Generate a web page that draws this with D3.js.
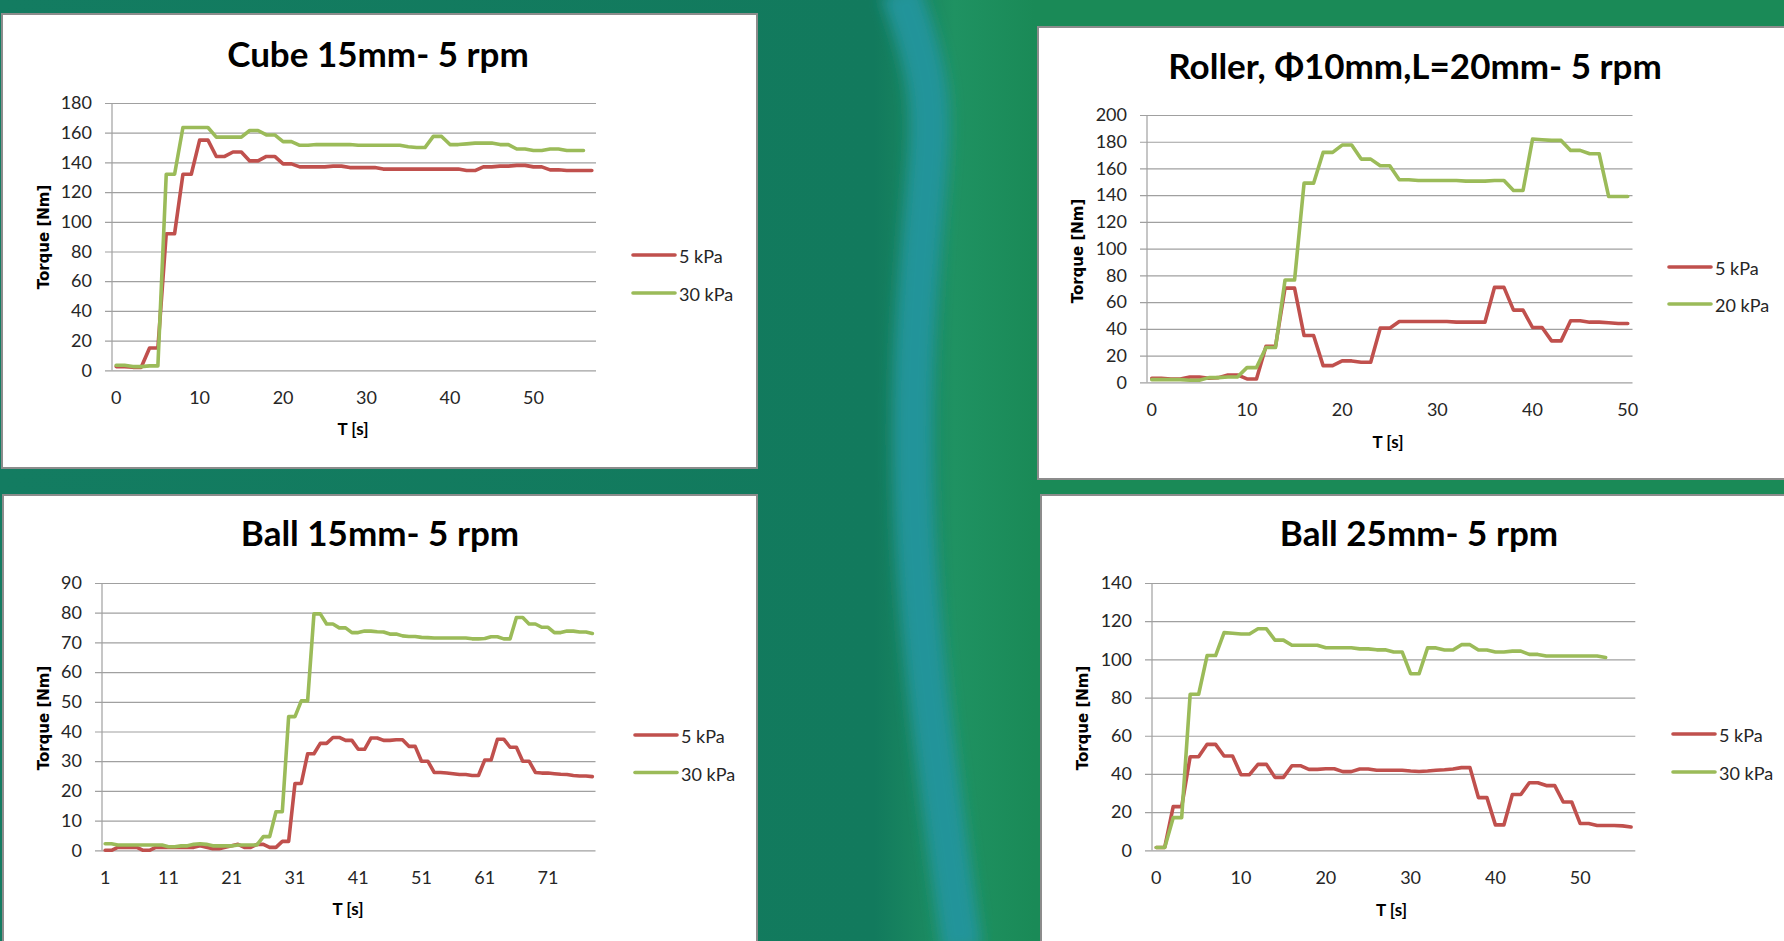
<!DOCTYPE html>
<html>
<head>
<meta charset="utf-8">
<script src="https://cdnjs.cloudflare.com/ajax/libs/d3/7.8.5/d3.min.js"></script>
<style>
    body { margin: 0; background: #127b5e; overflow: hidden; }
    svg { display: block; }
    .tick text { font-family: Lato, "Open Sans", sans-serif; font-size: 18px; fill: #262626; }
    .title { font-family: Lato, "Open Sans", sans-serif; font-weight: bold; font-size: 35px; fill: #000; }
    .ylabel { font-family: "DejaVu Sans", sans-serif; font-weight: bold; font-size: 15px; fill: #000; }
    .xlabel { font-family: Lato, "Open Sans", sans-serif; font-weight: bold; font-size: 17px; fill: #000; }
    .legend text { font-family: Lato, "Open Sans", sans-serif; font-size: 18px; fill: #262626; }
</style>
</head>
<body>
<div id="slide"></div>
<script>
//VARIABLES
let colors = ['#c0504d', '#9bbb59'];
let gridColor = '#a0a0a0';

//DATA - Cube 15mm (T = 0..57 s)
let cubeTime = d3.range(0, 58);
let cubeTicks = [0, 10, 20, 30, 40, 50];
let cubeNames = ['5 kPa', '30 kPa'];
let cube5 = [2.5, 2.5, 2, 2, 15, 15, 92, 92, 132, 132, 155, 155, 144, 144, 147, 147, 141, 141, 144, 144,
    139, 139, 137, 137, 137, 137, 137.5, 137.5, 136.5, 136.5, 136.5, 136.5, 135.5, 135.5, 135.5, 135.5, 135.5, 135.5, 135.5, 135.5,
    135.5, 135.5, 134.5, 134.5, 137, 137, 137.5, 137.5, 138, 138, 137, 137, 135, 135, 134.5, 134.5, 134.5, 134.5];
let cube30 = [3.4, 3.4, 2.5, 2.5, 3, 3, 132, 132, 163.5, 163.5, 163.5, 163.5, 157, 157, 157, 157, 161.5, 161.5, 158.5, 158.5,
    154, 154, 151.5, 151.5, 152, 152, 152, 152, 152, 151.5, 151.5, 151.5, 151.5, 151.5, 151.5, 150.5, 150, 150, 157.5, 157.5,
    152, 152, 152.5, 153, 153, 153, 152, 152, 149, 149, 148, 148, 149, 149, 148, 148, 148];

//DATA - Roller 10mm (T = 0..50 s)
let rollerTime = d3.range(0, 51);
let rollerTicks = [0, 10, 20, 30, 40, 50];
let rollerNames = ['5 kPa', '20 kPa'];
let roller5 = [3, 3, 2.5, 2.5, 4, 4, 3, 3.5, 5.5, 5.5, 2.5, 2.5, 27, 27, 70.5, 70.5, 35, 35, 12.5, 12.5,
    16, 16, 15, 15, 40.5, 40.5, 45.5, 45.5, 45.5, 45.5, 45.5, 45.5, 45, 45, 45, 45, 71, 71, 54, 54,
    41, 41, 31, 31, 46, 46, 45, 45, 44.5, 44, 44];
let roller20 = [2, 2, 2, 2, 1.5, 1.5, 3.5, 3.5, 4, 4, 11, 11, 26, 26, 76.5, 76.5, 149, 149, 172, 172,
    177.5, 177.5, 167, 167, 162, 162, 151.5, 151.5, 151, 151, 151, 151, 151, 150.5, 150.5, 150.5, 151, 151, 143.5, 143.5,
    182, 181.5, 181, 181, 173.5, 173.5, 171, 171, 139, 139, 139];

//DATA - Ball 15mm (T = 1..78 s)
let ball15Time = d3.range(1, 79);
let ball15Ticks = [1, 11, 21, 31, 41, 51, 61, 71];
let ball15Names = ['5 kPa', '30 kPa'];
let ball15_5 = [0, 0, 1, 1, 1, 1, 0, 0, 1, 1, 1, 1, 1, 1, 1, 1.5, 1, 0.5, 0.5, 1,
    1.5, 2, 1, 1, 2, 2, 1, 1, 3, 3, 22.5, 22.5, 32.5, 32.5, 36, 36, 38, 38, 37, 37,
    34, 34, 37.8, 37.8, 37, 37, 37.2, 37.2, 35, 35, 30, 30, 26.2, 26.2, 26, 25.8, 25.5, 25.5, 25.2, 25.2,
    30.4, 30.4, 37.4, 37.4, 34.7, 34.7, 30, 30, 26.2, 26, 26, 25.8, 25.6, 25.5, 25.2, 25, 25, 24.8];
let ball15_30 = [2.2, 2.2, 1.8, 1.8, 1.8, 1.8, 1.8, 1.8, 1.8, 1.8, 1.2, 1.2, 1.5, 1.5, 2, 2.2, 2, 1.5, 1.5, 1.5,
    1.5, 1.8, 1.8, 1.8, 1.8, 4.6, 4.6, 13, 13, 45, 45, 50.3, 50.3, 79.6, 79.6, 76.2, 76.2, 74.9, 74.9, 73.3,
    73.3, 73.8, 73.8, 73.6, 73.5, 72.8, 72.8, 72.2, 72, 72, 71.7, 71.6, 71.5, 71.5, 71.5, 71.5, 71.5, 71.5, 71.2, 71.2,
    71.3, 71.9, 71.9, 71.2, 71.2, 78.4, 78.4, 76.2, 76.2, 75.1, 75.1, 73.3, 73.3, 73.8, 73.8, 73.5, 73.5, 73];

//DATA - Ball 25mm (T = 0..56 s)
let ball25Time = d3.range(0, 57);
let ball25Ticks = [0, 10, 20, 30, 40, 50];
let ball25Names = ['5 kPa', '30 kPa'];
let ball25_5 = [1.5, 1.5, 22.9, 22.9, 49, 49, 55.5, 55.5, 49.4, 49.4, 39.6, 39.6, 45, 45, 38.2, 38.2, 44.3, 44.3, 42.4, 42.4,
    42.7, 42.7, 41.2, 41.2, 42.6, 42.6, 41.9, 41.9, 41.9, 41.9, 41.5, 41.3, 41.5, 41.9, 42.2, 42.6, 43.3, 43.3, 27.6, 27.6,
    13.3, 13.3, 29.2, 29.2, 35.4, 35.4, 33.9, 33.9, 25.3, 25.3, 14, 14, 13, 13, 13, 12.8, 12.2];
let ball25_30 = [1.5, 1.5, 17.1, 17.1, 81.7, 81.7, 102, 102, 114, 113.7, 113.3, 113.3, 116, 116, 110.1, 110.1, 107.4, 107.4, 107.4, 107.4,
    106.1, 106.1, 106.1, 106.1, 105.5, 105.5, 105, 105, 103.9, 103.9, 92.5, 92.5, 106, 106, 104.9, 104.9, 107.7, 107.7, 104.9, 104.9,
    103.9, 103.9, 104.3, 104.3, 102.6, 102.6, 101.8, 101.8, 101.8, 101.8, 101.8, 101.8, 101.8, 101];

//SVG
let svg = d3.select('#slide').append('svg')
    .attr('width', 1784)
    .attr('height', 941);

drawBackground();

drawPanel({
    box: [2, 14, 755, 454],
    plot: {left: 112, right: 596, top: 103, bottom: 370.3},
    yMax: 180, yStep: 20,
    time: cubeTime, ticks: cubeTicks,
    series: [cube5, cube30], names: cubeNames,
    title: 'Cube 15mm- 5 rpm', titleX: 378, titleY: 67,
    yLabelX: 44, yLabelY: 237,
    xLabelX: 353, xLabelY: 435,
    legendX: 633, legendY: [255, 293]
});

drawPanel({
    box: [1038, 27, 760, 452],
    plot: {left: 1147, right: 1632.5, top: 115, bottom: 382.3},
    yMax: 200, yStep: 20,
    time: rollerTime, ticks: rollerTicks,
    series: [roller5, roller20], names: rollerNames,
    title: 'Roller, Φ10mm,L=20mm- 5 rpm', titleX: 1415, titleY: 79,
    yLabelX: 1078, yLabelY: 251,
    xLabelX: 1388, xLabelY: 448,
    legendX: 1669, legendY: [267, 304]
});

drawPanel({
    box: [3, 495, 754, 460],
    plot: {left: 102, right: 595.5, top: 583, bottom: 850.3},
    yMax: 90, yStep: 10,
    time: ball15Time, ticks: ball15Ticks,
    series: [ball15_5, ball15_30], names: ball15Names,
    title: 'Ball 15mm- 5 rpm', titleX: 380, titleY: 546,
    yLabelX: 44, yLabelY: 718,
    xLabelX: 348, xLabelY: 915,
    legendX: 635, legendY: [735, 772.5]
});

drawPanel({
    box: [1041, 495, 760, 460],
    plot: {left: 1152, right: 1635.3, top: 583, bottom: 850.3},
    yMax: 140, yStep: 20,
    time: ball25Time, ticks: ball25Ticks,
    series: [ball25_5, ball25_30], names: ball25Names,
    title: 'Ball 25mm- 5 rpm', titleX: 1419, titleY: 545.7,
    yLabelX: 1083, yLabelY: 718,
    xLabelX: 1391.5, xLabelY: 916,
    legendX: 1673, legendY: [734, 772]
});

//FUNCTIONS
function drawBackground() {
    let defs = svg.append('defs');
    let grad = defs.append('linearGradient')
        .attr('id', 'bgGrad')
        .attr('x1', '0').attr('x2', '1').attr('y1', '0').attr('y2', '0');
    grad.append('stop').attr('offset', '0').attr('stop-color', '#137c61');
    grad.append('stop').attr('offset', '0.49').attr('stop-color', '#127a5d');
    grad.append('stop').attr('offset', '0.535').attr('stop-color', '#1f9262');
    grad.append('stop').attr('offset', '0.58').attr('stop-color', '#1a8a57');
    grad.append('stop').attr('offset', '1').attr('stop-color', '#1a8a57');

    defs.append('filter')
        .attr('id', 'blur')
        .attr('x', '-50%').attr('width', '200%')
        .append('feGaussianBlur')
        .attr('stdDeviation', 7);

    svg.append('rect')
        .attr('width', 1784)
        .attr('height', 941)
        .attr('fill', 'url(#bgGrad)');

    //Light streak in the middle
    let streak = d3.line().curve(d3.curveBasis);
    svg.append('path')
        .attr('d', streak([[900, -10], [935, 90], [925, 200], [912, 360], [913, 540], [930, 720], [962, 950]]))
        .attr('fill', 'none')
        .attr('stroke', '#23949a')
        .attr('stroke-width', 40)
        .attr('filter', 'url(#blur)');
}

function drawPanel(cfg) {
    let panel = svg.append('g');

    panel.append('rect')
        .attr('x', cfg.box[0])
        .attr('y', cfg.box[1])
        .attr('width', cfg.box[2])
        .attr('height', cfg.box[3])
        .attr('fill', '#ffffff')
        .attr('stroke', '#8c8c8c')
        .attr('stroke-width', 2);

    panel.append('text')
        .attr('class', 'title')
        .attr('x', cfg.titleX)
        .attr('y', cfg.titleY)
        .attr('text-anchor', 'middle')
        .text(cfg.title);

    let width = cfg.plot.right - cfg.plot.left;
    let height = cfg.plot.bottom - cfg.plot.top;

    let chart = panel.append('g')
        .attr('transform', 'translate(' + cfg.plot.left + ',' + cfg.plot.top + ')');

    //X Axis (category axis)
    let x = d3.scaleBand()
        .domain(cfg.time)
        .range([0, width]);

    //Y Axis
    let y = d3.scaleLinear()
        .domain([0, cfg.yMax])
        .range([height, 0]);

    chart.append('g')
        .attr('class', 'y_axis')
        .call(d3.axisLeft(y)
            .tickValues(d3.range(0, cfg.yMax + 1, cfg.yStep))
            .tickSizeInner(-width)
            .tickSizeOuter(0)
            .tickPadding(20))
        .call(function(g) { g.select('.domain').remove(); })
        .call(function(g) {
            g.selectAll('.tick line')
                .attr('x1', -7)
                .attr('stroke', gridColor)
                .attr('stroke-width', 1.2);
        });

    chart.append('line')
        .attr('x1', 0).attr('x2', 0)
        .attr('y1', 0).attr('y2', height)
        .attr('stroke', gridColor)
        .attr('stroke-width', 1.2);

    chart.append('g')
        .attr('class', 'x_axis')
        .attr('transform', 'translate(0,' + height + ')')
        .call(d3.axisBottom(x)
            .tickValues(cfg.ticks)
            .tickSize(0)
            .tickPadding(21))
        .call(function(g) { g.select('.domain').remove(); });

    //Lines
    cfg.series.forEach(function(values, s) {
        let line = d3.line()
            .x(function(d, i) { return x(cfg.time[i]) + x.bandwidth() / 2; })
            .y(function(d) { return y(d); });
        chart.append('path')
            .attr('d', line(values))
            .attr('fill', 'none')
            .attr('stroke', colors[s])
            .attr('stroke-width', 3.6)
            .attr('stroke-linejoin', 'round')
            .attr('stroke-linecap', 'round');
    });

    //Axis titles
    panel.append('text')
        .attr('class', 'ylabel')
        .attr('transform', 'translate(' + cfg.yLabelX + ',' + cfg.yLabelY + ') rotate(-90)')
        .attr('text-anchor', 'middle')
        .attr('dominant-baseline', 'central')
        .text('Torque [Nm]');

    panel.append('text')
        .attr('class', 'xlabel')
        .attr('x', cfg.xLabelX)
        .attr('y', cfg.xLabelY)
        .attr('text-anchor', 'middle')
        .text('T [s]');

    //Legend
    let legend = panel.append('g').attr('class', 'legend');
    cfg.names.forEach(function(name, s) {
        let ly = cfg.legendY[s];
        legend.append('line')
            .attr('x1', cfg.legendX).attr('x2', cfg.legendX + 42)
            .attr('y1', ly).attr('y2', ly)
            .attr('stroke', colors[s])
            .attr('stroke-width', 3.6)
            .attr('stroke-linecap', 'round');
        legend.append('text')
            .attr('x', cfg.legendX + 46)
            .attr('y', ly + 8)
            .text(name);
    });
}
</script>
</body>
</html>
